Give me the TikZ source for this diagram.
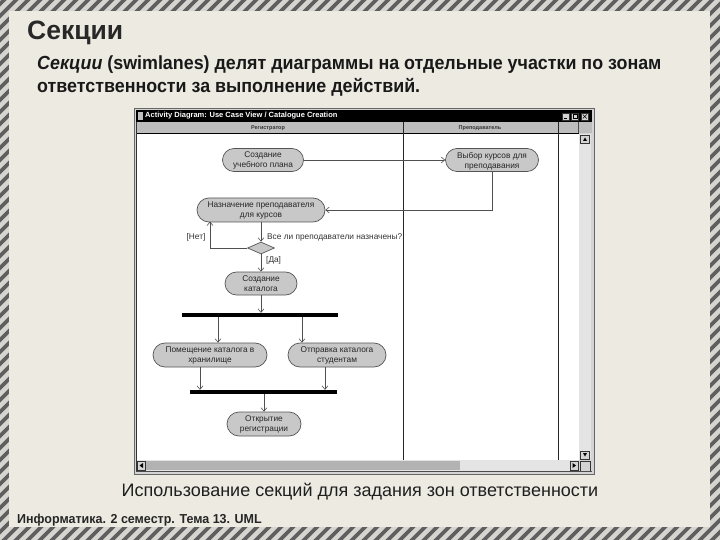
\documentclass[tikz,border=0pt]{standalone}
\usepackage{fontspec}
\setmainfont{Liberation Sans}
\usepackage{graphicx}
\usetikzlibrary{shapes.misc,shapes.geometric,arrows.meta,calc}
\definecolor{bg}{RGB}{237,234,226}
\definecolor{stripelight}{RGB}{215,213,208}
\definecolor{stripedark}{RGB}{95,95,95}
\definecolor{titlecol}{RGB}{40,40,40}
\definecolor{winframe}{RGB}{212,212,212}
\definecolor{hdr}{RGB}{190,190,190}
\definecolor{scrollc}{RGB}{228,228,228}
\definecolor{nodefill}{RGB}{200,200,200}
\definecolor{nodedraw}{RGB}{85,85,85}
\definecolor{linec}{RGB}{80,80,80}
\newcommand\fs[1]{\fontsize{#1}{#1}\selectfont}
\newcommand\hsc[2]{\scalebox{#1}[1]{#2}}
\tikzset{
  act/.style={rounded rectangle, draw=nodedraw, fill=nodefill, line width=0.7pt,
    inner sep=1pt, align=center, font=\fontsize{8.3}{10}\selectfont\color{black!85}, text depth=0pt},
  arr/.style={draw=linec, line width=0.6pt, -{Straight Barb[length=3.5pt,width=6pt]}},
  ln/.style={draw=linec, line width=0.6pt},
  bar/.style={rectangle, fill=black, inner sep=0pt, minimum height=4pt},
  lbl/.style={font=\fs{8.3}\color{black!80}, inner sep=0pt},
  lane/.style={font=\bfseries\fs{5.5}\color{black!80}, inner sep=0pt},
  wbtn/.style={fill=winframe, draw=black!80, line width=0.4pt}
}
\begin{document}
\begin{tikzpicture}[x=1pt,y=-1pt]
\useasboundingbox (0,0) rectangle (720,540);
% hatched border
\fill[stripelight] (0,0) rectangle (720,540);
\begin{scope}
\clip (0,0) rectangle (720,540);
\foreach \i in {-570,-558,...,730} \draw[stripedark, line width=3.6pt] (\i,550) -- (\i+560,-10);
\end{scope}
\fill[bg] (9,11) rectangle (710,527);

% titles
\node[anchor=base west, inner sep=0pt, font=\bfseries\fs{26.5}\color{titlecol}] (title) at (27,40) {Секции};
\node[anchor=base west, inner sep=0pt, font=\bfseries\fs{19}\color{black!90}] (sub1) at (37,70)
  {\hsc{0.94}{\textit{Секции} (swimlanes) делят диаграммы на отдельные участки по зонам}};
\node[anchor=base west, inner sep=0pt, font=\bfseries\fs{19}\color{black!90}] (sub2) at (37,93)
  {\hsc{0.94}{ответственности за выполнение действий.}};

% window
\draw[fill=winframe, draw=black!60, line width=0.6pt] (134,108) rectangle (594,474);
\fill[black] (136,110) rectangle (592,122);
\fill[black!25] (138,112) rectangle (143,120);
\node[anchor=west, inner sep=0pt, font=\bfseries\fs{7.5}\color{white}] (wt) at (145,116)
  {Activity Diagram: Use Case View / Catalogue Creation};
\draw[wbtn] (562,113) rectangle (569.5,120);
\draw[wbtn] (571,113) rectangle (578.5,120);
\draw[wbtn] (581,113) rectangle (588.5,120);
\draw[line width=0.8pt] (563.5,118.5) -- (567,118.5);
\draw[line width=0.5pt] (572.8,114.7) rectangle (576.8,118.5);
\draw[line width=0.6pt] (582.8,114.5) -- (586.8,118.5) (582.8,118.5) -- (586.8,114.5);
\fill[hdr] (136,122) rectangle (592,133);
\node[lane] (l1) at (268,128) {Регистратор};
\node[lane] (l2) at (480,128) {Преподаватель};
\fill[white] (137,134) rectangle (579,460);
\draw[line width=1.2pt] (136,133.6) -- (579,133.6);
\draw[line width=0.8pt, black!80] (136.5,122) -- (136.5,471);
\draw[line width=0.7pt, black!85] (403,122) -- (403,460);
\draw[line width=0.7pt, black!85] (558,122) -- (558,460);
\draw[line width=0.6pt, black!70] (578.5,122) -- (578.5,133);
% vertical scrollbar
\fill[scrollc] (579,134) rectangle (591,460);
\draw[wbtn] (580.5,135) rectangle (589.5,143);
\fill[black] (583,141) -- (587,141) -- (585,137.5) -- cycle;
\draw[wbtn] (580.5,451) rectangle (589.5,459);
\fill[black] (583,453) -- (587,453) -- (585,456.5) -- cycle;
% horizontal scrollbar
\fill[scrollc] (137,460) rectangle (579,471);
\fill[black!30] (146,461) rectangle (460,470);
\draw[wbtn] (137.5,461) rectangle (145,470);
\fill[black] (143,463) -- (143,468) -- (139.5,465.5) -- cycle;
\draw[wbtn] (570,461) rectangle (578,470);
\fill[black] (572.5,463) -- (572.5,468) -- (576,465.5) -- cycle;
\draw[wbtn] (580,461) rectangle (590,471);
\draw[line width=0.6pt, black!70] (136,471.5) -- (592,471.5);

% activity diagram
\node[act, minimum width=83pt, minimum height=23pt] (cu) at (263,160) {Создание\\учебного плана};
\node[act, minimum width=95pt, minimum height=23pt] (vk) at (492,160) {Выбор курсов для\\преподавания};
\node[act, minimum width=130pt, minimum height=24pt] (np) at (261,210) {Назначение преподавателя\\для курсов};
\node[diamond, draw=nodedraw, fill=nodefill, line width=0.7pt, inner sep=0pt,
  minimum width=27pt, minimum height=12pt, aspect=2.2] (dm) at (261,248) {};
\node[act, minimum width=74pt, minimum height=23pt] (sk) at (261,283.5) {Создание\\каталога};
\node[bar, minimum width=156pt] (fork) at (260,315) {};
\node[act, minimum width=116pt, minimum height=24pt] (pk) at (210,355) {Помещение каталога в\\хранилище};
\node[act, minimum width=100pt, minimum height=24pt] (ok) at (337,355) {Отправка каталога\\студентам};
\node[bar, minimum width=147pt] (join) at (263.5,392) {};
\node[act, minimum width=76pt, minimum height=24pt] (orr) at (264,424) {Открытие\\регистрации};
\coordinate (nret) at (210,221.6);

\draw[arr] (cu.east) -- (vk.west);
\draw[arr] (vk.south) |- (np.east);
\draw[arr] (np.south) -- (dm.north);
\draw[arr] (dm.west) -| (nret);
\draw[arr] (dm.south) -- (sk.north);
\draw[arr] (sk.south) -- (sk.south |- fork.north);
\draw[arr] ([xshift=8pt]pk.north |- fork.south) -- ([xshift=8pt]pk.north);
\draw[arr] ([xshift=-35pt]ok.north |- fork.south) -- ([xshift=-35pt]ok.north);
\draw[arr] ([xshift=-10pt]pk.south) -- ([xshift=-10pt]pk.south |- join.north);
\draw[arr] ([xshift=-12pt]ok.south) -- ([xshift=-12pt]ok.south |- join.north);
\draw[arr] (orr.north |- join.south) -- (orr.north);

\node[lbl, anchor=west] (q) at (267,237) {Все ли преподаватели назначены?};
\node[lbl] (net) at (196,237) {[Нет]};
\node[lbl, anchor=west] (da) at (266,260) {[Да]};

% caption and footer
\node[anchor=base, inner sep=0pt, font=\fs{18}\color{black!88}] (cap) at (360,496)
  {Использование секций для задания зон ответственности};
\node[anchor=base west, inner sep=0pt, font=\bfseries\fs{13}\color{black!85}] (foot) at (17,523)
  {\hsc{0.96}{Информатика. 2 семестр. Тема 13. UML}};
\end{tikzpicture}
\end{document}
